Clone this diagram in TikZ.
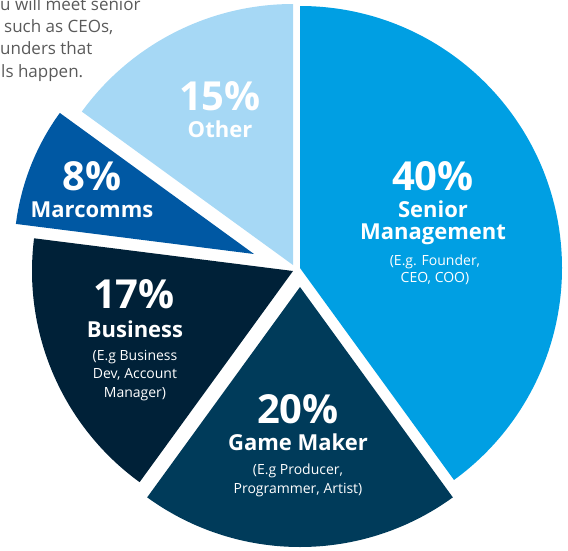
\documentclass[tikz,border=0pt]{standalone}
\usepackage{fontspec}
\setmainfont{Open Sans}
\definecolor{csenior}{RGB}{0,159,227}
\definecolor{cother}{RGB}{166,216,245}
\definecolor{cmarc}{RGB}{0,88,163}
\definecolor{cbus}{RGB}{0,33,56}
\definecolor{cgame}{RGB}{0,59,90}
\definecolor{cgray}{RGB}{90,90,90}
\tikzset{
  pct/.style={text=white,font=\fontsize{40}{40}\selectfont\bfseries,anchor=base,inner sep=0pt},
  cat/.style={text=white,font=\fontsize{22}{22}\selectfont\bfseries,anchor=base,inner sep=0pt},
  det/.style={text=white,font=\fontsize{14}{14}\selectfont,anchor=base,inner sep=0pt},
  intro/.style={text=cgray,font=\fontsize{17}{17}\selectfont,anchor=base west,inner sep=0pt}
}
\begin{document}
\begin{tikzpicture}[x=1pt,y=-1pt]
\useasboundingbox (0,0) rectangle (568,550);
% slices
\fill[csenior] (300,268) -- ++(-90:262) arc[start angle=-90,end angle=54,radius=262] -- cycle;
\fill[cgame] (300,287) -- ++(54:260) arc[start angle=54,end angle=126,radius=260] -- cycle;
\fill[cbus] (293,271) -- ++(126:261) arc[start angle=126,end angle=187.2,radius=261] -- cycle;
\fill[cmarc] (254,254) -- ++(187.2:240) arc[start angle=187.2,end angle=216,radius=240] -- cycle;
\fill[cother] (293,265) -- ++(216:261) arc[start angle=216,end angle=270,radius=261] -- cycle;
% intro text
\node[intro] (i1) at (0,10) {u will meet senior};
\node[intro] (i2) at (4,32.5) {such as CEOs,};
\node[intro] (i3) at (0,54.5) {unders that};
\node[intro] (i4) at (1,77) {ls happen.};
% Senior
\node[pct] (p40) at (433,190) {40\%};
\node[cat] (s1) at (433,217) {Senior};
\node[cat] (s2) at (433,239) {Management};
\node[det] (s3) at (435,265) {(E.g. Founder,};
\node[det] (s4) at (435,282) {CEO, COO)};
% Other
\node[pct] (p15) at (220,110) {15\%};
\node[cat] (o1) at (220,137) {Other};
% Marcomms
\node[pct] (p8) at (92,190) {8\%};
\node[cat] (m1) at (92,217) {Marcomms};
% Business
\node[pct] (p17) at (134,308) {17\%};
\node[cat] (b1) at (135,337) {Business};
\node[det] (b2) at (135,360) {(E.g Business};
\node[det] (b3) at (135,378) {Dev, Account};
\node[det] (b4) at (135,397) {Manager)};
% Game Maker
\node[pct] (p20) at (298,423) {20\%};
\node[cat] (g1) at (298,450) {Game Maker};
\node[det] (g2) at (298,474) {(E.g Producer,};
\node[det] (g3) at (298,493) {Programmer, Artist)};
\end{tikzpicture}
\end{document}
